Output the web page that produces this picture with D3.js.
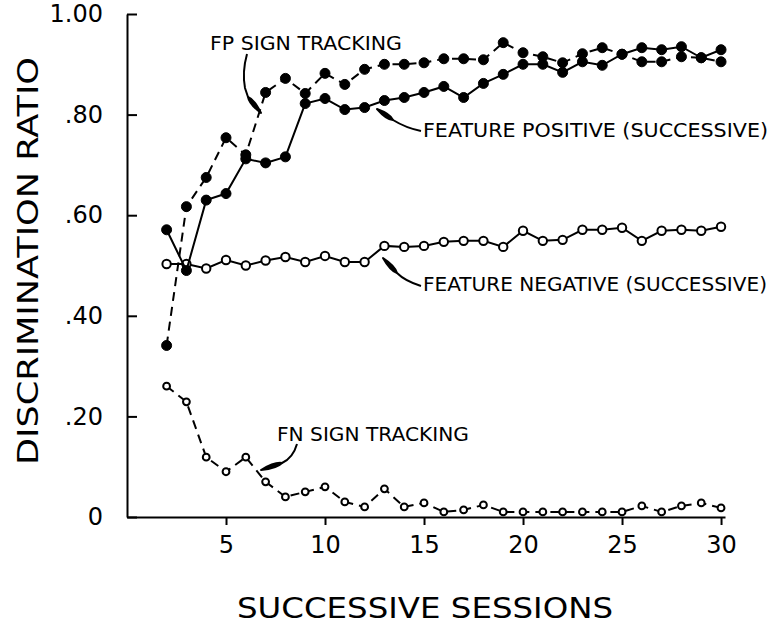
<!DOCTYPE html>
<html>
<head>
<meta charset="utf-8">
<script src="https://cdn.jsdelivr.net/npm/d3@7"></script>
<style>
  body { margin: 0; background: #fff; }
  text { font-family: "DejaVu Sans", "Liberation Sans", sans-serif; fill: #000; }
</style>
</head>
<body>
<div class="chart"></div>
<script>
var sessions = [2, 3, 4, 5, 6, 7, 8, 9, 10, 11, 12, 13, 14, 15, 16, 17, 18, 19, 20, 21, 22, 23, 24, 25, 26, 27, 28, 29, 30];

// feature positive (successive), solid line, filled dots
var fpSuccessive = [.571, .49, .63, .643, .712, .704, .716, .822, .832, .81, .814, .828, .834, .844, .856, .834,
  .862, .88, .90, .90, .884, .905, .898, .92, .933, .929, .935, .913, .929];
// FP sign tracking, dashed line, filled dots
var fpSignTracking = [.341, .617, .675, .754, .72, .844, .872, .842, .882, .86, .89, .90, .90, .903, .911, .911,
  .909, .943, .923, .915, .903, .921, .933, .92, .905, .905, .915, .913, .905];
// feature negative (successive), solid line, open dots
var fnSuccessive = [.503, .503, .494, .511, .50, .51, .517, .507, .519, .507, .507, .539, .537, .539, .547, .549,
  .549, .537, .569, .549, .551, .571, .571, .575, .549, .569, .571, .569, .577];
// FN sign tracking, dashed line, small open dots
var fnSignTracking = [.26, .229, .119, .09, .119, .07, .04, .05, .06, .03, .02, .056, .02, .028, .01, .014,
  .024, .01, .01, .01, .01, .01, .01, .01, .022, .01, .022, .028, .018];

var xTicks = [5, 10, 15, 20, 25, 30];
var yTicks = [0, .2, .4, .6, .8, 1];
var yTickLabels = ["0", ".20", ".40", ".60", ".80", "1.00"];

var width = 770, height = 625;

var xScale = d3.scaleLinear().domain([0, 30.2]).range([127, 725]);
var yScale = d3.scaleLinear().domain([0, 1]).range([517, 14]);

var svg = d3.select('.chart')
  .append('svg')
  .attr("width", width)
  .attr("height", height);

/* axes */

var xAxis = svg.append("g")
  .attr("transform", "translate(0," + yScale(0) + ")")
  .call(d3.axisBottom(xScale).tickValues(xTicks).tickSizeInner(8).tickSizeOuter(0).tickPadding(11));

var yAxis = svg.append("g")
  .attr("transform", "translate(" + xScale(0) + ",0)")
  .call(d3.axisLeft(yScale).tickValues(yTicks).tickSizeInner(-10).tickSizeOuter(0).tickPadding(24)
    .tickFormat(function (d, i) { return yTickLabels[i]; }));

[xAxis, yAxis].forEach(function (ax) {
  ax.selectAll("path, line").attr("stroke", "#000").attr("stroke-width", 2);
  ax.selectAll("text").style("font-size", "24px").style("font-family", "'DejaVu Sans', sans-serif");
});

svg.append("text")
  .attr("x", 425)
  .attr("y", 618)
  .attr("text-anchor", "middle")
  .attr("textLength", 376)
  .attr("lengthAdjust", "spacingAndGlyphs")
  .style("font-size", "29px")
  .text("SUCCESSIVE  SESSIONS");

svg.append("text")
  .attr("transform", "translate(38,261) rotate(-90)")
  .attr("text-anchor", "middle")
  .attr("textLength", 408)
  .attr("lengthAdjust", "spacingAndGlyphs")
  .style("font-size", "28px")
  .text("DISCRIMINATION  RATIO");

/* series */

function series(values, dashed, filled, r) {
  var pts = sessions.map(function (s, i) { return { s: s, v: values[i] }; });
  var line = d3.line()
    .x(function (d) { return xScale(d.s); })
    .y(function (d) { return yScale(d.v); });
  svg.append("path")
    .datum(pts)
    .attr("d", line)
    .attr("fill", "none")
    .attr("stroke", "#000")
    .attr("stroke-width", 2)
    .attr("stroke-dasharray", dashed ? "9,6" : null);
  svg.append("g").selectAll("circle")
    .data(pts)
    .enter().append("circle")
    .attr("cx", function (d) { return xScale(d.s); })
    .attr("cy", function (d) { return yScale(d.v); })
    .attr("r", r)
    .attr("fill", filled ? "#000" : "#fff")
    .attr("stroke", "#000")
    .attr("stroke-width", filled ? 1 : 2);
}

series(fnSuccessive, false, false, 4.2);
series(fnSignTracking, true, false, 3.4);
series(fpSignTracking, true, true, 5);
series(fpSuccessive, false, true, 5);

/* labels with leader arrows */

function label(txt, x, y, len, size) {
  svg.append("text")
    .attr("x", x)
    .attr("y", y)
    .attr("textLength", len)
    .attr("lengthAdjust", "spacingAndGlyphs")
    .style("font-size", size + "px")
    .text(txt);
}

function leader(d, base, tip) {
  svg.append("path")
    .attr("d", d)
    .attr("fill", "none")
    .attr("stroke", "#000")
    .attr("stroke-width", 2);
  var dx = tip[0] - base[0], dy = tip[1] - base[1];
  var len = Math.sqrt(dx * dx + dy * dy);
  var nx = -dy / len * 3.5, ny = dx / len * 3.5;
  var mx = base[0] + dx * 0.3, my = base[1] + dy * 0.3;
  svg.append("path")
    .attr("d", "M" + base[0] + "," + base[1] +
      "Q" + (mx + nx) + "," + (my + ny) + " " + tip[0] + "," + tip[1] +
      "Q" + (mx - nx) + "," + (my - ny) + " " + base[0] + "," + base[1] + "Z")
    .attr("fill", "#000")
    .attr("stroke", "#000")
    .attr("stroke-width", 2)
    .attr("stroke-linejoin", "round");
}

label("FP SIGN TRACKING", 210, 50, 192, 20);
leader("M247,54 Q242,72 245,88 L248,97", [248, 97], [261, 113]);

label("FEATURE POSITIVE (SUCCESSIVE)", 423, 137, 345, 19);
leader("M421,131 Q406,128 393,120", [393, 120], [377, 109]);

label("FEATURE NEGATIVE (SUCCESSIVE)", 423, 291, 344, 19);
leader("M421,286 Q405,281 397,273", [397, 273], [383, 258]);

label("FN SIGN TRACKING", 277, 441, 192, 19);
leader("M297,444 Q293,458 282,463", [282, 463], [261, 470]);
</script>
</body>
</html>
